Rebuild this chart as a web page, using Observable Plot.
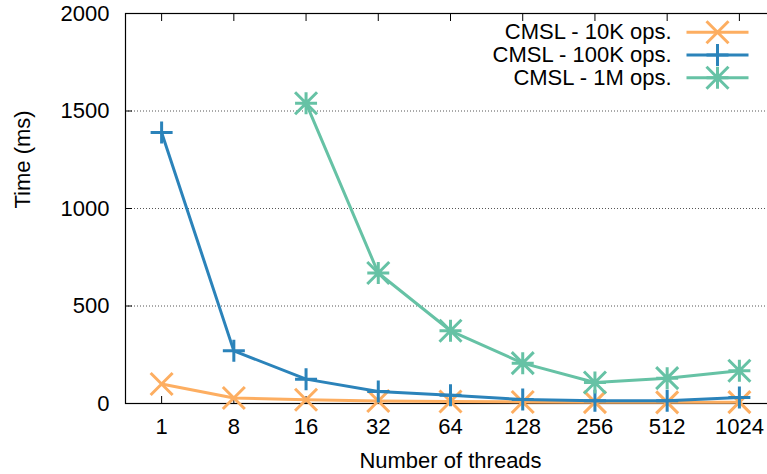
<!DOCTYPE html>
<html><head><meta charset="utf-8">
<script src="https://cdn.jsdelivr.net/npm/d3@7"></script>
<script src="https://cdn.jsdelivr.net/npm/@observablehq/plot@0.6"></script>
<style>
html,body{margin:0;padding:0;background:#fff;overflow:hidden;}
#chart{width:767px;height:474px;overflow:hidden;}
#chart svg{overflow:hidden;display:block;}
</style></head><body><div id="chart"></div>
<script>
const threads = [1, 8, 16, 32, 64, 128, 256, 512, 1024];
const ops10K = [100, 28, 19, 13, 10, 8, 7, 6, 7];
const ops100K = [1390, 270, 125, 62, 42, 20, 14, 14, 31];
const ops1M = [null, null, 1540, 669, 373, 207, 108, 130, 168];
const seriesNames = ["CMSL - 10K ops.", "CMSL - 100K ops.", "CMSL - 1M ops."];
const seriesColors = ["#fdae61", "#2b83ba", "#66c2a5"];
const yTicks = [0, 500, 1000, 1500, 2000];
const gridTicks = [500, 1000, 1500];
const xLabel = "Number of threads";
const yLabel = "Time (ms)";

const H = 11;
const symTimes = {draw(c){c.moveTo(-H,-H);c.lineTo(H,H);c.moveTo(-H,H);c.lineTo(H,-H);}};
const symPlus = {draw(c){c.moveTo(-H,0);c.lineTo(H,0);c.moveTo(0,-H);c.lineTo(0,H);}};
const symStar = {draw(c){symPlus.draw(c);symTimes.draw(c);}};
const symLine = {draw(c){c.moveTo(-31,0);c.lineTo(31,0);}};
const symbols = [symTimes, symPlus, symStar];
const seriesValues = [ops10K, ops100K, ops1M];

const idx = threads.map((_, i) => i);
const series = seriesValues.map((vals, k) =>
  vals.map((v, i) => ({i, threads: threads[i], v, s: seriesNames[k]})));

const marks = [
  Plot.ruleY(gridTicks, {stroke: "#555", strokeWidth: 1, strokeDasharray: "1,2"}),
  Plot.frame({stroke: "#000", strokeWidth: 1.2}),
  Plot.axisY(yTicks, {tickSize: -7, tickPadding: 23, label: null, tickFormat: d => String(d), fontSize: 22}),
  Plot.axisX(idx, {tickSize: -7, tickPadding: 22, label: null, tickFormat: i => String(threads[i]), fontSize: 22}),
  Plot.axisX(idx, {anchor: "top", tickSize: -7, label: null, tickFormat: () => ""}),
  Plot.text([yLabel], {frameAnchor: "left", dx: -103, rotate: -90, fontSize: 22, text: d => d}),
  Plot.text([xLabel], {frameAnchor: "bottom", dy: 57, fontSize: 22, lineAnchor: "middle", text: d => d})
];

series.forEach((rows, k) => {
  const defined = rows.filter(r => r.v != null);
  marks.push(Plot.line(defined, {x: "i", y: "v", stroke: seriesColors[k], strokeWidth: 3, curve: "linear"}));
  marks.push(Plot.dot(defined, {x: "i", y: "v", symbol: symbols[k], fill: "none", stroke: seriesColors[k], strokeWidth: 3, r: 5}));
});

seriesNames.forEach((name, k) => {
  const dy = 18.7 + 22.8 * k;
  marks.push(Plot.text([name], {frameAnchor: "top-right", dx: -104, dy, textAnchor: "end", lineAnchor: "middle", fontSize: 22, text: d => d}));
  marks.push(Plot.dot([name], {x: null, y: null, frameAnchor: "top-right", dx: -58, dy, symbol: symLine, fill: "none", stroke: seriesColors[k], strokeWidth: 3}));
  marks.push(Plot.dot([name], {x: null, y: null, frameAnchor: "top-right", dx: -58, dy, symbol: symbols[k], fill: "none", stroke: seriesColors[k], strokeWidth: 3}));
});

const plot = Plot.plot({
  width: 767, height: 474,
  marginLeft: 125, marginRight: -8, marginTop: 13, marginBottom: 71,
  style: {fontFamily: "'Liberation Sans', Arial, Helvetica, sans-serif", fontSize: "22px", color: "#000", background: "#fff", overflow: "hidden"},
  x: {domain: [-0.5, 8.5]},
  y: {domain: [0, 2000]},
  marks
});
document.getElementById("chart").appendChild(plot);
</script></body></html>
